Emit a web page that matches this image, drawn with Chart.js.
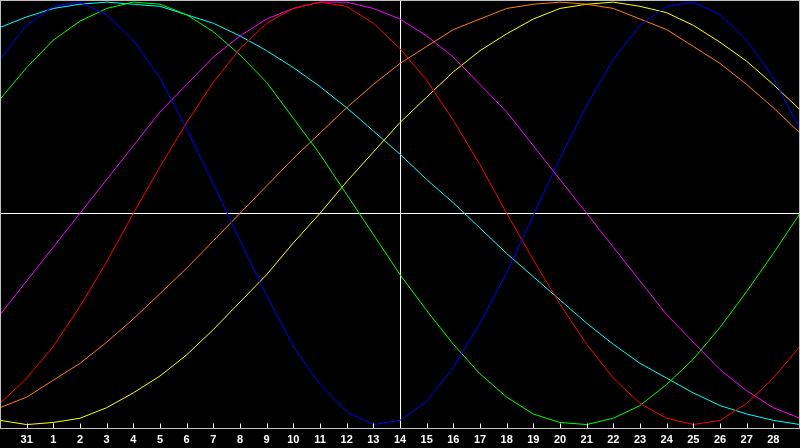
<!DOCTYPE html>
<html>
<head>
<meta charset="utf-8">
<script src="https://cdn.jsdelivr.net/npm/chart.js@4.4.1/dist/chart.umd.min.js"></script>
<style>
    html, body { margin: 0; padding: 0; background: #000; }
    #wrap { width: 800px; height: 448px; position: relative; }
</style>
</head>
<body>
<div id="wrap"><canvas id="bioChart"></canvas></div>
<script>
// day labels, first and last points sit on the frame edges
var days = ['', '31', '1', '2', '3', '4', '5', '6', '7', '8', '9', '10', '11', '12', '13', '14',
    '15', '16', '17', '18', '19', '20', '21', '22', '23', '24', '25', '26', '27', '28', ''];
var todayLabel = '14';

// cycle values, -100..100, one per day
var physical = [73, 89, 98, 100, 94, 82, 64, 40, 14, -13, -39, -63, -81, -94, -100, -98,
    -89, -73, -52, -28, -1, 26, 51, 73, 89, 98, 100, 94, 82, 64, 40];
var emotional = [-90, -78, -63, -44, -23, 0, 22, 43, 62, 78, 90, 97, 100, 98, 90, 78,
    63, 44, 23, 0, -22, -43, -62, -78, -90, -97, -100, -98, -90, -78, -63];
var intellectual = [54, 69, 82, 91, 97, 100, 99, 94, 86, 75, 62, 45, 28, 9, -10, -29,
    -46, -62, -76, -87, -95, -99, -100, -97, -91, -81, -69, -54, -37, -19, 0];
var intuitive = [-48, -32, -16, 0, 16, 32, 48, 61, 74, 84, 92, 97, 100, 100, 97, 92,
    84, 74, 61, 48, 32, 16, 0, -16, -32, -48, -61, -74, -84, -92, -97];
var aesthetic = [-98, -100, -99, -97, -92, -85, -77, -67, -55, -42, -29, -14, 0, 15, 29, 43,
    55, 67, 77, 85, 92, 97, 99, 100, 98, 95, 89, 81, 72, 61, 49];
var awareness = [-92, -87, -79, -71, -61, -50, -38, -26, -13, 0, 13, 26, 38, 50, 61, 71,
    79, 87, 92, 97, 99, 100, 99, 97, 92, 87, 79, 71, 61, 50, 38];
var spiritual = [88, 93, 97, 99, 100, 99, 98, 94, 90, 84, 77, 69, 60, 50, 39, 28,
    16, 5, -7, -19, -30, -41, -52, -62, -71, -78, -85, -91, -95, -98, -100];

function line(label, data, color) {
    return {
        label: label,
        data: data,
        borderColor: color,
        borderWidth: 1,
        pointRadius: 0,
        tension: 0,
        fill: false
    };
}

// grey frame plus the little tick marks inside the bottom edge
var framePlugin = {
    id: 'frame',
    afterDraw: function(chart) {
        var ctx = chart.ctx;
        var area = chart.chartArea;
        var xs = chart.scales.x;
        var bottom = Math.round(area.bottom) - 0.5;
        ctx.save();
        ctx.strokeStyle = '#c0c0c0';
        ctx.lineWidth = 1;
        ctx.strokeRect(area.left + 0.5, area.top + 0.5, area.right - area.left - 1, bottom - area.top - 0.5);
        ctx.strokeStyle = '#ffffff';
        ctx.beginPath();
        for (var i = 1; i < days.length - 1; i++) {
            var px = Math.round(xs.getPixelForTick(i)) + 0.5;
            ctx.moveTo(px, bottom - 5);
            ctx.lineTo(px, bottom - 0.5);
        }
        ctx.stroke();
        ctx.restore();
    }
};

var ctx = document.getElementById('bioChart').getContext('2d');
var myChart = new Chart(ctx, {
    type: 'line',
    data: {
        labels: days,
        datasets: [
            line('Physical', physical, '#0000ff'),
            line('Emotional', emotional, '#ff0000'),
            line('Intellectual', intellectual, '#00ff00'),
            line('Intuitive', intuitive, '#ff00ff'),
            line('Spiritual', spiritual, '#00ffff'),
            line('Awareness', awareness, '#ff8000'),
            line('Aesthetic', aesthetic, '#ffff00')
        ]
    },
    options: {
        responsive: true,
        maintainAspectRatio: false,
        animation: false,
        devicePixelRatio: 1,
        layout: { autoPadding: false, padding: { left: 0, right: 0, top: 0, bottom: 1 } },
        plugins: {
            legend: { display: false },
            tooltip: { enabled: false }
        },
        scales: {
            x: {
                type: 'category',
                offset: false,
                border: { display: false },
                grid: {
                    drawTicks: true,
                    tickLength: 5,
                    tickColor: 'rgba(0,0,0,0)',
                    color: function(c) {
                        return days[c.index] === todayLabel ? '#ffffff' : 'rgba(0,0,0,0)';
                    }
                },
                ticks: {
                    autoSkip: false,
                    maxRotation: 0,
                    padding: 0,
                    color: '#ffffff',
                    font: { family: 'Liberation Sans', size: 11, weight: 'bold' }
                }
            },
            y: {
                min: -102,
                max: 101,
                border: { display: false },
                grid: {
                    drawTicks: false,
                    color: function(c) {
                        return c.tick && c.tick.value === 0 ? '#ffffff' : 'rgba(0,0,0,0)';
                    }
                },
                ticks: { display: false, stepSize: 1 }
            }
        }
    },
    plugins: [framePlugin]
});
</script>
</body>
</html>
